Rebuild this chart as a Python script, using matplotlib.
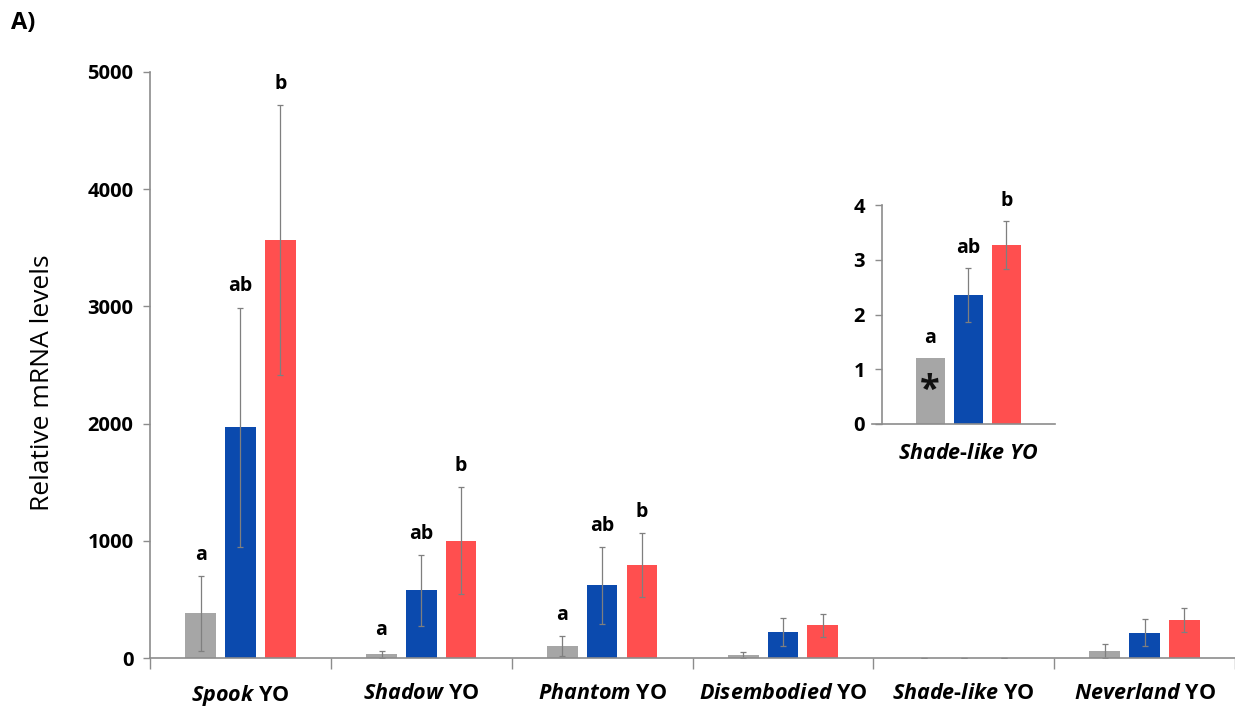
import numpy as np
import matplotlib
matplotlib.use("Agg")
import matplotlib.pyplot as plt

plt.rcParams["font.family"] = ["Open Sans", "DejaVu Sans"]
plt.rcParams["mathtext.fontset"] = "custom"
plt.rcParams["mathtext.it"] = "Open Sans:italic:bold"
plt.rcParams["mathtext.rm"] = "Open Sans:bold"

# Gene names (italic) and group means / SD for the three treatments
genes = ["Spook", "Shadow", "Phantom", "Disembodied", "Shade-like", "Neverland"]
gray_vals = [380, 32, 106, 27, 1.21, 62]
gray_err = [320, 30, 85, 28, 0.0, 58]
blue_vals = [1970, 577, 620, 222, 2.36, 216]
blue_err = [1020, 305, 330, 122, 0.5, 114]
red_vals = [3566, 1000, 795, 279, 3.27, 327]
red_err = [1155, 455, 275, 99, 0.44, 102]
letters = [["a", "ab", "b"], ["a", "ab", "b"], ["a", "ab", "b"],
           ["", "", ""], ["", "", ""], ["", "", ""]]

# Inset: Shade-like YO on its own scale
inset_vals = [1.21, 2.36, 3.27]
inset_err = [np.nan, 0.5, 0.44]
inset_letters = ["a", "ab", "b"]

COLORS = ["#A6A6A6", "#0B4AAE", "#FF4F4F"]
SPINE = "#8C8C8C"
ERR = "#7F7F7F"

fig = plt.figure(figsize=(12.35, 7.1), dpi=100)
ax = fig.add_axes([0.1215, 0.0732, 0.8785, 0.8254])

x = np.arange(len(genes))
width = 0.17
offsets = [-0.22, 0.0, 0.22]
series = [(gray_vals, gray_err), (blue_vals, blue_err), (red_vals, red_err)]
err_kw = dict(ecolor=ERR, elinewidth=0.9, capsize=2, capthick=0.9)

for i, (vals, errs) in enumerate(series):
    ax.bar(x + offsets[i], vals, width, color=COLORS[i], yerr=errs,
           error_kw=err_kw, zorder=2)
    for j in range(len(genes)):
        lab = letters[j][i]
        if lab:
            ax.annotate(lab, (x[j] + offsets[i], vals[j] + errs[j]),
                        xytext=(0, 8), textcoords="offset points",
                        ha="center", va="bottom", fontsize=14,
                        fontweight="bold")

ax.set_xlim(-0.5, len(genes) - 0.5)
ax.set_ylim(0, 5000)
ax.set_yticks(np.arange(0, 5001, 1000))
ax.set_xticks(np.arange(-0.5, len(genes), 1.0))
ax.set_xticklabels([])
ax.tick_params(axis="x", length=8, color=SPINE, width=1)
ax.tick_params(axis="y", length=5, color=SPINE, width=1, pad=7,
               labelsize=14.5)
for lbl in ax.get_yticklabels():
    lbl.set_fontweight("bold")
for g, xc in zip(genes, x):
    name = "-".join(r"$\mathit{%s}$" % part for part in g.split("-"))
    ax.annotate(name + " YO", (xc, 0), xytext=(0, -18),
                textcoords="offset points", ha="center", va="top",
                fontsize=15.5, fontweight="bold", annotation_clip=False)

for side in ["top", "right"]:
    ax.spines[side].set_visible(False)
for side in ["left", "bottom"]:
    ax.spines[side].set_color(SPINE)
    ax.spines[side].set_linewidth(1.2)
ax.set_ylabel("Relative mRNA levels", fontsize=19)
ax.yaxis.set_label_coords(-0.088, 0.47)

fig.text(0.009, 0.967, "A)", fontsize=17, fontweight="bold",
         va="center")

# Inset axes
axi = fig.add_axes([0.714, 0.403, 0.140, 0.308])
for i in range(3):
    axi.bar(offsets[i], inset_vals[i], width, color=COLORS[i],
            yerr=inset_err[i], error_kw=err_kw, zorder=2)
    top = inset_vals[i] + (0 if np.isnan(inset_err[i]) else inset_err[i])
    axi.annotate(inset_letters[i], (offsets[i], top), xytext=(0, 7),
                 textcoords="offset points", ha="center", va="bottom",
                 fontsize=14, fontweight="bold")
axi.text(offsets[0], inset_vals[0] * 0.5, "*", ha="center", va="center",
         fontsize=26, fontweight="bold", color="#111111")
axi.set_xlim(-0.5, 0.5)
axi.set_ylim(0, 4)
axi.set_yticks(range(0, 5))
axi.set_xticks([])
axi.tick_params(axis="y", length=5, color=SPINE, width=1, pad=7,
                labelsize=14.5)
for lbl in axi.get_yticklabels():
    lbl.set_fontweight("bold")
for side in ["top", "right"]:
    axi.spines[side].set_visible(False)
for side in ["left", "bottom"]:
    axi.spines[side].set_color(SPINE)
    axi.spines[side].set_linewidth(1.2)
axi.spines["bottom"].set_bounds(-0.555, 0.5)
axi.set_xlabel(r"$\mathit{Shade}$-$\mathit{like}$ $\mathit{YO}$",
               fontsize=15.5, fontweight="bold", labelpad=14)
axi.patch.set_alpha(0)

fig.savefig("out.png", dpi=100)
